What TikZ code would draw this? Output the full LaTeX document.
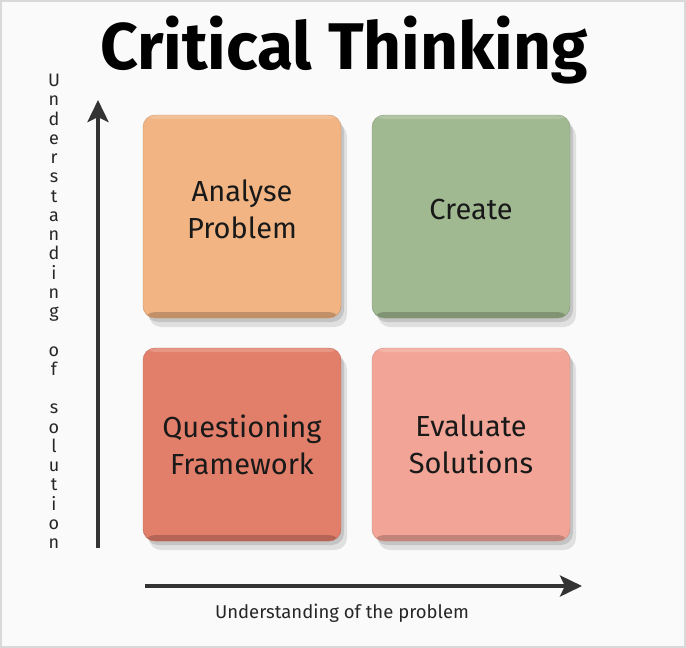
\documentclass[tikz,border=0pt]{standalone}
\usepackage{fontspec}
\setmainfont{Fira Sans}
\usepackage{tikz}
\usetikzlibrary{arrows.meta, positioning, shadows}
\definecolor{tileorange}{HTML}{F1B482}
\definecolor{tilegreen}{HTML}{A0B991}
\definecolor{tilered}{HTML}{E27F6A}
\definecolor{tilesalmon}{HTML}{F2A596}
\tikzstyle{axis}=[-{Stealth[length=22pt,width=21pt,inset=5pt]}, line width=4.5pt, color=black!80]
\tikzstyle{tile}=[rounded corners=12pt, minimum width=198pt, fill=#1, draw=#1!85!black, thin,
  align=center, text=black!90, font=\fontsize{29}{37}\selectfont,
  drop shadow={shadow xshift=6pt, shadow yshift=-9pt, opacity=.10, fill=black},
  drop shadow={shadow xshift=3pt, shadow yshift=-4pt, opacity=.12, fill=black},
  path picture={\fill[#1!80!black] (path picture bounding box.south west) rectangle ([yshift=6pt]path picture bounding box.south east);
                \fill[white, opacity=.18] (path picture bounding box.north west) rectangle ([yshift=-4pt]path picture bounding box.north east);}]

\begin{document}
\begin{tikzpicture}[x=1pt, y=-1pt]
  % Page
  \useasboundingbox (0,0) rectangle (686,648);
  \fill[black!2] (0,0) rectangle (686,648);
  \draw[black!15, line width=2pt] (1,1) rectangle (685,647);

  % Title
  \node[font=\fontsize{66}{70}\selectfont\bfseries] (title) at (344,50) {Critical Thinking};

  % Tiles
  \node[tile=tileorange, minimum height=203pt, text depth=14pt] (analyse)  at (242,216.5) {Analyse\\Problem};
  \node[tile=tilegreen,  minimum height=203pt, text depth=14pt] (create)   at (471,216.5) {Create};
  \node[tile=tilered,    minimum height=193pt] (question) at (242,444.5) {Questioning\\Framework};
  \node[tile=tilesalmon, minimum height=193pt] (evaluate) at (471,444.5) {Evaluate\\Solutions};

  % Axes
  \coordinate (ybot) at (98,548);
  \coordinate (ytop) at (98,100);
  \coordinate (xleft) at (145,586);
  \coordinate (xright) at (582,586);
  \draw[axis] (ybot) -- (ytop);
  \draw[axis] (xleft) -- (xright);

  % Axis labels
  \node[font=\fontsize{18.5}{20}\selectfont, text=black!85] (xlabel) at (342,613) {Understanding of the problem};
  \node[font=\fontsize{18}{19.25}\selectfont, text=black!85, align=center, inner sep=0pt, anchor=north] (ylabel) at (54,74)
    {U\\n\\d\\e\\r\\s\\t\\a\\n\\d\\i\\n\\g\\~\\o\\f\\~\\s\\o\\l\\u\\t\\i\\o\\n};
\end{tikzpicture}
\end{document}
